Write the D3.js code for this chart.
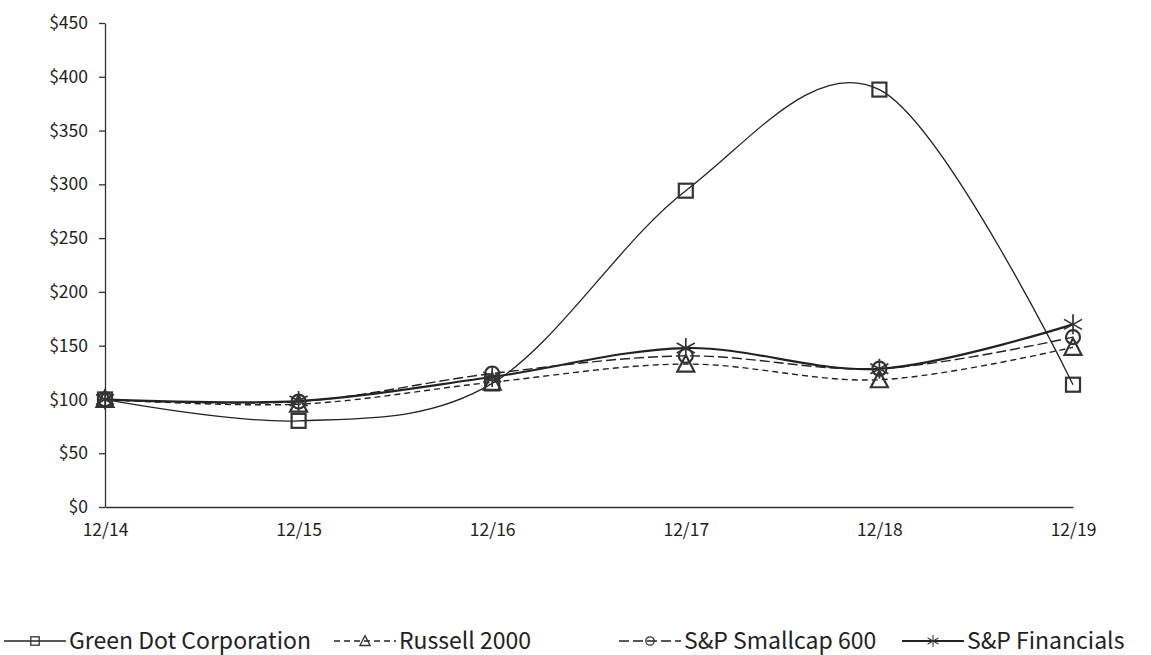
<!DOCTYPE html>
<html lang="en">
<head>
<meta charset="UTF-8">
<title>Cumulative total return</title>
<script src="https://cdn.jsdelivr.net/npm/d3@7"></script>
<style>
  body { margin: 0; background: #fff; }
  text { font-family: "Noto Sans CJK JP", "Noto Sans", sans-serif; fill: #222; }
</style>
</head>
<body>
<script>
    var categories = ["12/14", "12/15", "12/16", "12/17", "12/18", "12/19"];
    var greenDot   = [100, 80.1, 114.9, 294.1, 388.1, 113.7];
    var russell    = [100, 95.6, 116.0, 132.9, 118.3, 148.5];
    var smallcap   = [100, 98.0, 124.1, 140.5, 128.6, 157.9];
    var financials = [100, 98.5, 120.9, 147.8, 128.5, 169.8];
    var yTicks     = [0, 50, 100, 150, 200, 250, 300, 350, 400, 450];

    var width = 1151, height = 655;
    var plotLeft = 105, plotRight = 1073, plotTop = 23, plotBottom = 507;

    var svg = d3.select("body").append("svg")
        .attr("width", width)
        .attr("height", height);

    var x = d3.scalePoint().domain(categories).range([plotLeft, plotRight]);
    var y = d3.scaleLinear().domain([0, 450]).range([plotBottom, plotTop]);

    // axes
    var yAxis = svg.append("g")
        .attr("transform", "translate(" + plotLeft + ",0)")
        .call(d3.axisLeft(y).tickValues(yTicks).tickSize(6).tickSizeOuter(0).tickPadding(11)
            .tickFormat(function(d) { return "$" + d; }));
    yAxis.selectAll("text").style("font-size", "17.5px");

    var xAxis = svg.append("g")
        .attr("transform", "translate(0," + plotBottom + ")")
        .call(d3.axisBottom(x).tickSize(0).tickSizeOuter(0).tickPadding(17));
    xAxis.selectAll("text").style("font-size", "17.5px");

    svg.selectAll(".domain, .tick line").attr("stroke", "#333").attr("stroke-width", 1.3);

    var series = [
        { name: "Green Dot Corporation", values: greenDot, width: 1.3, dash: null, marker: "square" },
        { name: "Russell 2000", values: russell, width: 1.4, dash: "6,4", marker: "triangle" },
        { name: "S&P Smallcap 600", values: smallcap, width: 1.4, dash: "10,4", marker: "circle" },
        { name: "S&P Financials", values: financials, width: 2.2, dash: null, marker: "star" }
    ];

    var line = d3.line()
        .x(function(d, i) { return x(categories[i]); })
        .y(function(d) { return y(d); })
        .curve(d3.curveCardinal.tension(0));

    function drawMarker(g, type, cx, cy) {
        var m = g.append("g").attr("transform", "translate(" + cx + "," + cy + ")")
            .attr("fill", "none").attr("stroke", "#333").attr("stroke-width", 2.2);
        if (type === "square") {
            m.append("rect").attr("x", -7).attr("y", -7).attr("width", 14).attr("height", 14);
        } else if (type === "triangle") {
            m.append("path").attr("d", "M0,-9L8.5,7.5L-8.5,7.5Z");
        } else if (type === "circle") {
            m.append("circle").attr("r", 7);
        } else {
            m.append("path").attr("stroke-width", 1.7)
                .attr("d", "M0,-10V10M-9,-5L9,5M-9,5L9,-5");
        }
    }

    series.forEach(function(s) {
        svg.append("path")
            .datum(s.values)
            .attr("d", line)
            .attr("fill", "none")
            .attr("stroke", "#222")
            .attr("stroke-width", s.width)
            .attr("stroke-dasharray", s.dash);
    });

    series.forEach(function(s) {
        var g = svg.append("g");
        s.values.forEach(function(v, i) {
            drawMarker(g, s.marker, x(categories[i]), y(v));
        });
    });

    // legend
    var legendX = [4, 334, 619, 902];
    var legendY = 641;
    series.forEach(function(s, i) {
        var g = svg.append("g").attr("transform", "translate(" + legendX[i] + "," + legendY + ")");
        g.append("line")
            .attr("x1", 0).attr("x2", 62).attr("y1", 0).attr("y2", 0)
            .attr("stroke", "#222")
            .attr("stroke-width", s.width)
            .attr("stroke-dasharray", s.dash);
        var m = g.append("g").attr("transform", "translate(31,0) scale(0.6)");
        drawMarker(m, s.marker, 0, 0);
        g.append("text")
            .attr("x", 65).attr("y", 0).attr("dy", "0.35em")
            .style("font-size", "23px")
            .text(s.name);
    });
</script>
</body>
</html>
